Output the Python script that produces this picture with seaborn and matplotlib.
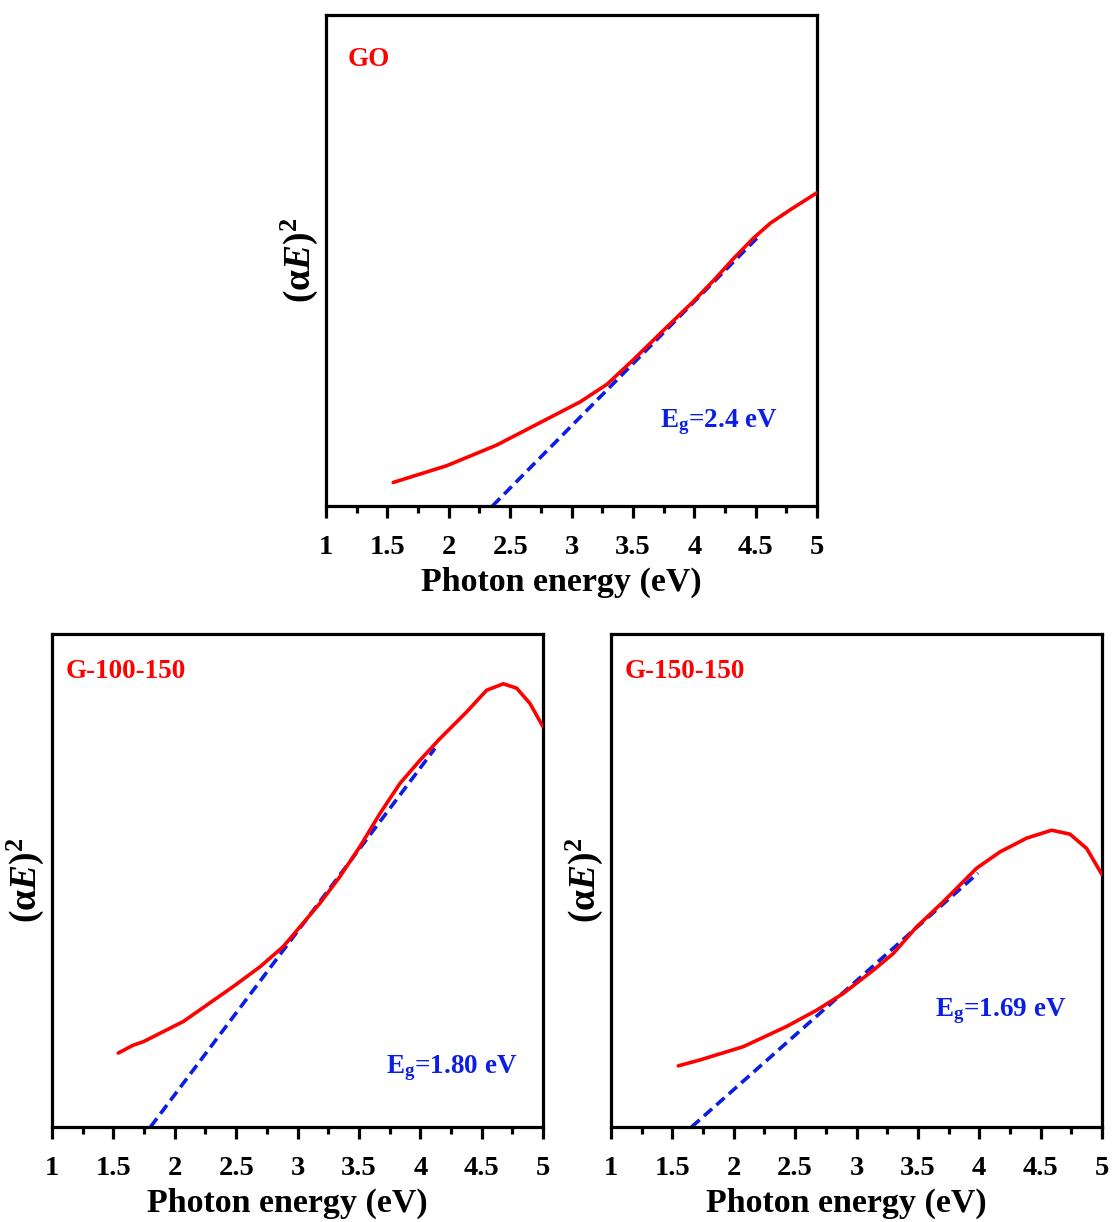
import numpy as np
import pandas as pd
import matplotlib
matplotlib.use("Agg")
import matplotlib.pyplot as plt
from matplotlib.ticker import MultipleLocator
import seaborn as sns

# ---- data (arbitrary y units 0..1) ----
go_E = [1.548, 1.983, 2.39, 2.80, 3.07, 3.29, 3.50, 3.75, 3.99, 4.16, 4.32, 4.48, 4.62, 4.78, 5.00]
go_y = [0.048, 0.082, 0.124, 0.177, 0.212, 0.248, 0.297, 0.358, 0.416, 0.460, 0.504, 0.545, 0.576, 0.603, 0.638]
go_fit_E = [2.356, 4.536]
go_fit_y = [0.0, 0.552]

g100_E = [1.540, 1.662, 1.744, 2.07, 2.477, 2.695, 2.884, 3.02, 3.183, 3.346, 3.509, 3.672, 3.835,
          3.998, 4.161, 4.378, 4.541, 4.677, 4.786, 4.894, 5.00]
g100_y = [0.150, 0.166, 0.173, 0.214, 0.285, 0.325, 0.366, 0.406, 0.454, 0.508, 0.569, 0.636, 0.697,
          0.744, 0.788, 0.842, 0.886, 0.899, 0.890, 0.859, 0.812]
g100_fit_E = [1.802, 4.12]
g100_fit_y = [0.0, 0.768]

g150_E = [1.548, 1.725, 2.078, 2.431, 2.676, 2.893, 3.137, 3.30, 3.49, 3.707, 3.979, 4.169, 4.387,
          4.590, 4.739, 4.875, 5.00]
g150_y = [0.124, 0.136, 0.163, 0.204, 0.237, 0.271, 0.318, 0.352, 0.406, 0.457, 0.525, 0.558, 0.586,
          0.602, 0.594, 0.565, 0.512]
g150_fit_E = [1.656, 3.99]
g150_fit_y = [0.0, 0.515]

names = ["GO", "G-100-150", "G-150-150"]
eg_labels = ["2.4 eV", "1.80 eV", "1.69 eV"]
xticks = [1, 1.5, 2, 2.5, 3, 3.5, 4, 4.5, 5]
xticklabels = ["1", "1.5", "2", "2.5", "3", "3.5", "4", "4.5", "5"]

sns.set_style("ticks")
plt.rcParams["font.family"] = ["Liberation Serif", "DejaVu Serif"]
plt.rcParams["font.weight"] = "bold"
plt.rcParams["mathtext.fontset"] = "custom"
plt.rcParams["mathtext.rm"] = "Liberation Serif:bold"
plt.rcParams["mathtext.it"] = "Liberation Serif:italic:bold"
plt.rcParams["mathtext.bf"] = "Liberation Serif:bold"
plt.rcParams["text.color"] = "black"
plt.rcParams["axes.labelcolor"] = "black"
plt.rcParams["xtick.color"] = "black"
plt.rcParams["axes.edgecolor"] = "black"

W, H = 1115, 1222
fig = plt.figure(figsize=(W / 100, H / 100), dpi=100)

def rect(l, t, r, b):
    return [l / W, 1 - b / H, (r - l) / W, (b - t) / H]

axes = [
    fig.add_axes(rect(326, 15, 817, 506)),
    fig.add_axes(rect(52, 634, 543, 1127)),
    fig.add_axes(rect(611, 634, 1102, 1127)),
]

curves = [(go_E, go_y, go_fit_E, go_fit_y),
          (g100_E, g100_y, g100_fit_E, g100_fit_y),
          (g150_E, g150_y, g150_fit_E, g150_fit_y)]

# label positions in axes fraction
name_pos = [(0.045, 0.91), (0.027, 0.924), (0.027, 0.924)]
eg_pos = [(0.68, 0.17), (0.68, 0.12), (0.66, 0.235)]

for ax, (E, y, fE, fy), name, eg, npos, epos in zip(axes, curves, names, eg_labels, name_pos, eg_pos):
    df = pd.DataFrame({"E": E, "y": y})
    dfit = pd.DataFrame({"E": fE, "y": fy})
    sns.lineplot(data=dfit, x="E", y="y", ax=ax, color="#0a1ee6", lw=2.6,
                 linestyle=(0, (3, 1.6)), zorder=2)
    sns.lineplot(data=df, x="E", y="y", ax=ax, color="#ff0000", lw=2.6, zorder=3)
    ax.set_xlim(1, 5)
    ax.set_ylim(0, 1)
    ax.set_xticks(xticks)
    ax.set_xticklabels(xticklabels, fontsize=20.5, fontweight="bold")
    ax.xaxis.set_minor_locator(MultipleLocator(0.25))
    ax.tick_params(axis="x", which="major", direction="out", length=8.5, width=2.3, pad=12.5)
    ax.tick_params(axis="x", which="minor", direction="out", length=5, width=2.3)
    ax.tick_params(axis="y", which="both", left=False, labelleft=False)
    ax.set_yticks([])
    for s in ax.spines.values():
        s.set_visible(True)
        s.set_linewidth(2.3)
        s.set_color("black")
    ax.set_xlabel("Photon energy (eV)", fontsize=24.5, fontweight="bold", labelpad=4.5)
    ax.xaxis.label.set_x(0.5 - 10 / 491)
    ax.set_ylabel(r"$(\mathrm{\alpha}E)^2$", fontsize=27, labelpad=4)
    ax.text(npos[0], npos[1], name, transform=ax.transAxes, color="#ff0000",
            fontsize=19.5, fontweight="bold", va="center", ha="left")
    ax.text(epos[0], epos[1], r"$\mathrm{E_g}$=" + eg, transform=ax.transAxes,
            color="#0a1ee6", fontsize=19.5, fontweight="bold", va="center", ha="left")

fig.savefig("out.png", dpi=100)
